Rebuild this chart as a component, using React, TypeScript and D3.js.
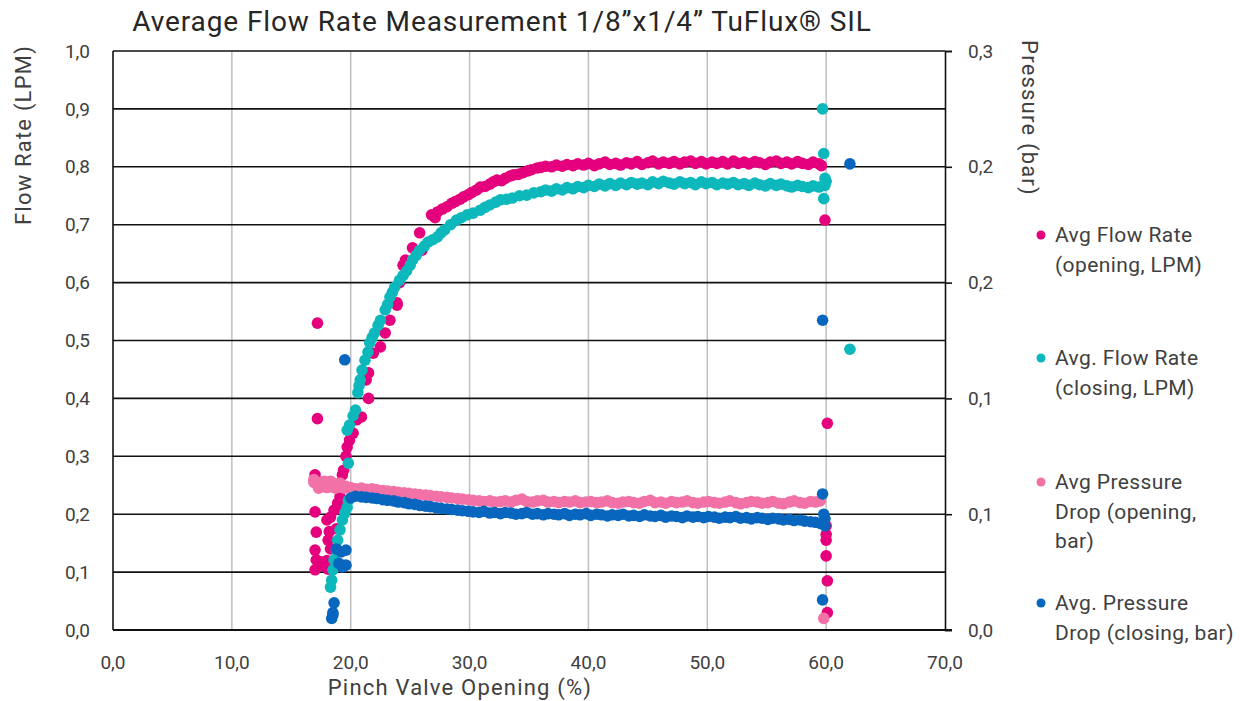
import * as d3 from 'd3';
import { useEffect, useRef } from 'react';

// x = pinch valve opening (%), y = flow rate (LPM)
const flowOpening: [number, number][] = [
    [17.2, 0.53], [17.2, 0.365], [17.0, 0.268], [17.2, 0.255], [17.0, 0.204], [17.1, 0.169], [17.0, 0.138],
    [17.1, 0.121], [17.0, 0.104], [17.5, 0.118], [17.8, 0.11], [18.0, 0.12], [18.1, 0.105], [18.2, 0.17],
    [18.0, 0.19], [18.1, 0.155], [18.3, 0.14], [18.3, 0.195], [18.6, 0.207], [18.8, 0.175], [18.9, 0.219],
    [19.1, 0.23], [19.3, 0.268], [19.4, 0.276], [19.2, 0.21],
    [19.6, 0.30], [19.7, 0.316], [19.9, 0.328], [20.2, 0.34], [20.5, 0.363], [20.9, 0.368], [21.5, 0.40],
    [21.3, 0.432], [21.5, 0.444], [21.9, 0.478], [22.5, 0.489], [22.9, 0.513], [23.3, 0.535], [23.9, 0.561],
    [23.9, 0.565], [24.1, 0.60], [24.4, 0.63], [24.6, 0.639], [25.2, 0.66], [25.8, 0.686], [26.0, 0.656],
    [26.8, 0.717], [27.1, 0.712], [27.3, 0.722], [27.7, 0.727], [28.1, 0.731], [28.5, 0.737], [28.8, 0.74],
    [29.2, 0.744], [29.5, 0.748], [29.9, 0.752], [30.2, 0.756], [30.6, 0.760], [30.9, 0.765], [31.3, 0.766],
    [31.7, 0.77], [32.0, 0.774], [32.3, 0.777], [32.7, 0.776], [33.0, 0.78], [33.4, 0.784], [33.7, 0.786],
    [34.1, 0.787], [34.5, 0.79], [34.9, 0.793], [35.2, 0.795], [35.7, 0.798],
    [36.0, 0.799], [36.4, 0.801], [36.9, 0.800], [37.3, 0.803], [37.8, 0.801], [38.2, 0.804], [38.7, 0.802],
    [39.1, 0.805], [39.6, 0.803], [40.0, 0.806], [40.5, 0.802], [40.9, 0.805], [41.4, 0.808], [41.8, 0.804],
    [42.3, 0.806], [42.7, 0.803], [43.2, 0.807], [43.6, 0.805], [44.1, 0.809], [44.5, 0.804], [45.0, 0.807],
    [45.4, 0.810], [45.9, 0.805], [46.3, 0.808], [46.8, 0.806], [47.2, 0.809], [47.7, 0.805], [48.1, 0.808],
    [48.6, 0.810], [49.0, 0.806], [49.5, 0.809], [49.9, 0.805], [50.4, 0.808], [50.8, 0.806], [51.3, 0.809],
    [51.7, 0.805], [52.2, 0.810], [52.6, 0.806], [53.1, 0.808], [53.5, 0.805], [54.0, 0.809], [54.4, 0.807],
    [54.9, 0.804], [55.3, 0.808], [55.8, 0.810], [56.2, 0.806], [56.7, 0.808], [57.1, 0.805], [57.6, 0.809],
    [58.0, 0.806], [58.5, 0.804], [58.9, 0.808], [59.4, 0.805], [59.6, 0.802],
    [59.9, 0.708], [60.1, 0.357], [60.0, 0.18], [60.0, 0.165], [60.0, 0.155], [60.0, 0.128], [60.1, 0.085], [60.1, 0.03]
];

const flowClosing: [number, number][] = [
    [18.3, 0.074], [18.4, 0.086], [18.5, 0.104], [18.6, 0.121], [18.8, 0.138], [18.9, 0.155], [19.1, 0.173],
    [19.3, 0.19], [19.5, 0.202], [19.7, 0.212], [19.8, 0.224], [19.8, 0.288], [19.7, 0.345], [19.9, 0.354],
    [20.2, 0.37], [20.4, 0.38], [20.6, 0.41], [20.7, 0.422], [20.8, 0.432], [20.95, 0.449], [21.2, 0.466],
    [21.45, 0.48], [21.6, 0.496], [21.8, 0.505], [22.0, 0.513], [22.3, 0.526], [22.5, 0.535], [22.9, 0.553],
    [23.1, 0.562], [23.3, 0.575], [23.5, 0.583], [23.7, 0.592], [24.1, 0.604], [24.4, 0.612], [24.7, 0.62],
    [25.0, 0.630], [25.2, 0.639], [25.5, 0.647], [25.8, 0.656], [26.2, 0.663], [26.5, 0.67], [26.9, 0.674],
    [27.3, 0.679], [27.6, 0.686], [27.9, 0.691], [28.4, 0.70], [28.9, 0.708], [29.3, 0.712], [29.8, 0.717],
    [30.3, 0.72], [30.9, 0.725], [31.3, 0.730], [31.7, 0.734], [32.2, 0.739], [32.6, 0.743], [33.1, 0.744],
    [33.6, 0.746], [34.2, 0.75], [34.8, 0.751], [35.4, 0.755],
    [36.0, 0.757], [36.4, 0.760], [36.9, 0.758], [37.3, 0.762], [37.8, 0.760], [38.2, 0.764], [38.7, 0.762],
    [39.1, 0.766], [39.6, 0.764], [40.0, 0.768], [40.5, 0.766], [40.9, 0.770], [41.4, 0.767], [41.8, 0.771],
    [42.3, 0.768], [42.7, 0.772], [43.2, 0.769], [43.6, 0.773], [44.1, 0.770], [44.5, 0.772], [45.0, 0.769],
    [45.4, 0.774], [45.9, 0.771], [46.3, 0.775], [46.8, 0.772], [47.2, 0.770], [47.7, 0.774], [48.1, 0.771],
    [48.6, 0.773], [49.0, 0.769], [49.5, 0.774], [49.9, 0.771], [50.4, 0.773], [50.8, 0.769], [51.3, 0.772],
    [51.7, 0.770], [52.2, 0.773], [52.6, 0.769], [53.1, 0.771], [53.5, 0.768], [54.0, 0.772], [54.4, 0.769],
    [54.9, 0.767], [55.3, 0.771], [55.8, 0.768], [56.2, 0.770], [56.7, 0.767], [57.1, 0.765], [57.6, 0.768],
    [58.0, 0.766], [58.5, 0.764], [58.9, 0.767], [59.4, 0.765],
    [59.7, 0.9], [59.8, 0.823], [59.9, 0.78], [60.0, 0.775], [59.9, 0.768], [59.8, 0.745], [62.0, 0.485]
];

// y = pressure drop (bar), right axis
const pressureOpening: [number, number][] = [
    [16.9, 0.0765], [16.9, 0.0780], [17.2, 0.0756], [17.3, 0.0735], [17.5, 0.0744], [17.6, 0.0768],
    [17.8, 0.0771], [18.0, 0.0738], [18.1, 0.0753], [18.3, 0.0771], [18.4, 0.0741], [18.7, 0.0759],
    [18.7, 0.0735], [19.0, 0.0747], [19.1, 0.0762], [19.3, 0.0738], [19.5, 0.0735], [19.6, 0.0744],
    [20.0, 0.0738], [20.4, 0.0732], [20.9, 0.0735], [21.3, 0.0729], [21.8, 0.0732], [22.2, 0.0726],
    [22.7, 0.0723], [23.1, 0.0720], [23.6, 0.0717], [24.0, 0.0714], [24.5, 0.0711], [24.9, 0.0708],
    [25.4, 0.0705], [25.8, 0.0702], [26.3, 0.0699], [26.7, 0.0696], [27.2, 0.0693], [27.6, 0.0690],
    [28.1, 0.0687], [28.5, 0.0684], [29.0, 0.0681], [29.4, 0.0678], [29.9, 0.0675], [30.3, 0.0672],
    [30.8, 0.0669], [31.2, 0.0666], [31.7, 0.0669], [32.1, 0.0663], [32.6, 0.0666], [33.0, 0.0669],
    [33.5, 0.0663], [33.9, 0.0672], [34.4, 0.0678], [34.8, 0.0666], [35.3, 0.0663], [35.7, 0.0669],
    [36.2, 0.0672], [36.6, 0.0663], [37.1, 0.0666], [37.5, 0.0660], [38.0, 0.0666], [38.4, 0.0663],
    [38.9, 0.0669], [39.3, 0.0660], [39.8, 0.0663], [40.2, 0.0666], [40.7, 0.0660], [41.1, 0.0663],
    [41.6, 0.0669], [42.0, 0.0660], [42.5, 0.0657], [42.9, 0.0663], [43.4, 0.0666], [43.8, 0.0660],
    [44.3, 0.0657], [44.7, 0.0666], [45.2, 0.0672], [45.6, 0.0660], [46.1, 0.0663], [46.5, 0.0657],
    [47.0, 0.0666], [47.4, 0.0660], [47.9, 0.0663], [48.3, 0.0669], [48.8, 0.0660], [49.2, 0.0657],
    [49.7, 0.0663], [50.1, 0.0666], [50.6, 0.0660], [51.0, 0.0657], [51.5, 0.0663], [51.9, 0.0669],
    [52.4, 0.0660], [52.8, 0.0654], [53.3, 0.0660], [53.7, 0.0666], [54.2, 0.0663], [54.6, 0.0657],
    [55.1, 0.0660], [55.5, 0.0666], [56.0, 0.0657], [56.4, 0.0654], [56.9, 0.0663], [57.3, 0.0669],
    [57.8, 0.0660], [58.2, 0.0657], [58.7, 0.0666], [59.1, 0.0663], [59.5, 0.0669], [59.8, 0.0060]
];

const pressureClosing: [number, number][] = [
    [18.4, 0.0060], [18.5, 0.0078], [18.5, 0.0090], [18.6, 0.0141], [18.8, 0.0420], [19.2, 0.0405],
    [19.6, 0.0414], [19.0, 0.0345], [19.3, 0.0327], [19.6, 0.0336], [19.5, 0.1400],
    [20.0, 0.0684], [20.4, 0.0693], [20.9, 0.0690], [21.3, 0.0687], [21.8, 0.0684], [22.2, 0.0681],
    [22.7, 0.0675], [23.1, 0.0672], [23.6, 0.0669], [24.0, 0.0663], [24.5, 0.0660], [24.9, 0.0654],
    [25.4, 0.0651], [25.8, 0.0645], [26.3, 0.0642], [26.7, 0.0639], [27.2, 0.0633], [27.6, 0.0630],
    [28.1, 0.0627], [28.5, 0.0624], [29.0, 0.0621], [29.4, 0.0618], [29.9, 0.0615], [30.3, 0.0612],
    [30.8, 0.0609], [31.2, 0.0615], [31.7, 0.0606], [32.1, 0.0609], [32.6, 0.0603], [33.0, 0.0609],
    [33.5, 0.0606], [33.9, 0.0600], [34.4, 0.0603], [34.8, 0.0609], [35.3, 0.0600], [35.7, 0.0603],
    [36.2, 0.0597], [36.6, 0.0603], [37.1, 0.0600], [37.5, 0.0597], [38.0, 0.0603], [38.4, 0.0594],
    [38.9, 0.0600], [39.3, 0.0597], [39.8, 0.0603], [40.2, 0.0594], [40.7, 0.0600], [41.1, 0.0597],
    [41.6, 0.0591], [42.0, 0.0597], [42.5, 0.0594], [42.9, 0.0600], [43.4, 0.0591], [43.8, 0.0594],
    [44.3, 0.0588], [44.7, 0.0597], [45.2, 0.0591], [45.6, 0.0588], [46.1, 0.0594], [46.5, 0.0585],
    [47.0, 0.0591], [47.4, 0.0588], [47.9, 0.0582], [48.3, 0.0591], [48.8, 0.0585], [49.2, 0.0588],
    [49.7, 0.0582], [50.1, 0.0588], [50.6, 0.0585], [51.0, 0.0579], [51.5, 0.0585], [51.9, 0.0582],
    [52.4, 0.0588], [52.8, 0.0579], [53.3, 0.0582], [53.7, 0.0576], [54.2, 0.0582], [54.6, 0.0579],
    [55.1, 0.0573], [55.5, 0.0579], [56.0, 0.0576], [56.4, 0.0570], [56.9, 0.0573], [57.3, 0.0567],
    [57.8, 0.0570], [58.2, 0.0564], [58.7, 0.0561], [59.1, 0.0558], [59.5, 0.0552],
    [59.7, 0.1605], [59.7, 0.0705], [59.8, 0.0600], [59.9, 0.0576], [59.8, 0.0555], [59.9, 0.0540],
    [59.7, 0.0156], [62.0, 0.2415]
];

const xTicks = [0, 10, 20, 30, 40, 50, 60, 70];
const leftTicks = [0, 0.1, 0.2, 0.3, 0.4, 0.5, 0.6, 0.7, 0.8, 0.9, 1.0];
const rightTicks = [0, 0.06, 0.12, 0.18, 0.24, 0.3];

const series = [
    { data: flowOpening, axis: 'left', color: '#E5007D', label: ['Avg Flow Rate', '(opening, LPM)'] },
    { data: flowClosing, axis: 'left', color: '#0DB8BC', label: ['Avg. Flow Rate', '(closing, LPM)'] },
    { data: pressureOpening, axis: 'right', color: '#F272A7', label: ['Avg Pressure', 'Drop (opening,', 'bar)'] },
    { data: pressureClosing, axis: 'right', color: '#0866BF', label: ['Avg.  Pressure', 'Drop (closing, bar)'] }
];

export default function App() {
    const ref = useRef<HTMLDivElement>(null);

    useEffect(() => {
        const width = 1240;
        const height = 701;
        const margin = { top: 51, right: 295, bottom: 71, left: 113 };
        const font = 'Roboto, "Noto Sans", sans-serif';
        const textColor = '#404040';
        const fmt = (v: number) => d3.format('.1f')(v).replace('.', ',');

        const x = d3.scaleLinear().domain([0, 70]).range([margin.left, width - margin.right]);
        const yL = d3.scaleLinear().domain([0, 1]).range([height - margin.bottom, margin.top]);
        const yR = d3.scaleLinear().domain([0, 0.3]).range([height - margin.bottom, margin.top]);

        const svg = d3.create('svg')
            .attr('width', width)
            .attr('height', height)
            .style('position', 'absolute')
            .style('left', 0)
            .style('top', 0)
            .style('background', '#fff');

        // vertical grid (gray)
        svg.append('g')
            .selectAll('line')
            .data(xTicks.slice(1, -1))
            .join('line')
            .attr('x1', d => x(d)).attr('x2', d => x(d))
            .attr('y1', yL(1)).attr('y2', yL(0))
            .attr('stroke', '#bfbfbf')
            .attr('stroke-width', 1.5);

        // horizontal grid (black)
        svg.append('g')
            .selectAll('line')
            .data(leftTicks.slice(1))
            .join('line')
            .attr('x1', x(0)).attr('x2', x(70))
            .attr('y1', d => yL(d)).attr('y2', d => yL(d))
            .attr('stroke', '#111')
            .attr('stroke-width', 1.6);

        // axis lines
        svg.append('line')
            .attr('x1', x(0)).attr('x2', x(0)).attr('y1', yL(1)).attr('y2', yL(0))
            .attr('stroke', '#111').attr('stroke-width', 1.6);

        const rightAxis = d3.axisRight(yR).tickValues(rightTicks).tickSize(7).tickFormat(() => '');
        svg.append('g')
            .attr('transform', `translate(${x(70)},0)`)
            .call(rightAxis)
            .call(g => g.selectAll('line, path').attr('stroke', '#111').attr('stroke-width', 1.6));

        svg.append('line')
            .attr('x1', x(0)).attr('x2', x(70) + 7).attr('y1', yL(0)).attr('y2', yL(0))
            .attr('stroke', '#111').attr('stroke-width', 2.2);

        // tick labels
        const tickText = (g: any) => g
            .attr('font-family', font)
            .attr('font-size', 19)
            .attr('fill', textColor);

        svg.append('g')
            .call(tickText)
            .selectAll('text')
            .data(leftTicks)
            .join('text')
            .attr('x', x(0) - 23)
            .attr('y', d => yL(d))
            .attr('dy', '0.35em')
            .attr('text-anchor', 'end')
            .text(d => fmt(d));

        svg.append('g')
            .call(tickText)
            .selectAll('text')
            .data(rightTicks)
            .join('text')
            .attr('x', x(70) + 23)
            .attr('y', d => yR(d))
            .attr('dy', '0.35em')
            .attr('text-anchor', 'start')
            .text(d => fmt(d));

        svg.append('g')
            .call(tickText)
            .selectAll('text')
            .data(xTicks)
            .join('text')
            .attr('x', d => x(d))
            .attr('y', yL(0) + 39)
            .attr('text-anchor', 'middle')
            .text(d => fmt(d));

        // titles
        svg.append('text')
            .attr('x', 502).attr('y', 31)
            .attr('text-anchor', 'middle')
            .attr('font-family', font)
            .attr('font-size', 28)
            .attr('letter-spacing', 0.9)
            .attr('fill', '#262626')
            .text('Average Flow Rate Measurement 1/8\u201Dx1/4\u201D TuFlux\u00AE SIL');

        svg.append('text')
            .attr('x', 460).attr('y', 695)
            .attr('text-anchor', 'middle')
            .attr('font-family', font)
            .attr('font-size', 22)
            .attr('letter-spacing', 1.2)
            .attr('fill', textColor)
            .text('Pinch Valve Opening (%)');

        svg.append('text')
            .attr('transform', 'translate(31,135) rotate(-90)')
            .attr('text-anchor', 'middle')
            .attr('font-family', font)
            .attr('font-size', 22)
            .attr('letter-spacing', 1.2)
            .attr('fill', textColor)
            .text('Flow Rate (LPM)');

        svg.append('text')
            .attr('transform', 'translate(1022,118) rotate(90)')
            .attr('text-anchor', 'middle')
            .attr('font-family', font)
            .attr('font-size', 22)
            .attr('letter-spacing', 1.2)
            .attr('fill', textColor)
            .text('Pressure (bar)');

        // points
        series.forEach(s => {
            const y = s.axis === 'left' ? yL : yR;
            svg.append('g')
                .selectAll('circle')
                .data(s.data)
                .join('circle')
                .attr('cx', d => x(d[0]))
                .attr('cy', d => y(d[1]))
                .attr('r', 5.8)
                .attr('fill', s.color);
        });

        // legend
        const legendTop = [235, 358, 482, 603];
        const legend = svg.append('g');
        series.forEach((s, i) => {
            legend.append('circle')
                .attr('cx', 1041).attr('cy', legendTop[i])
                .attr('r', 4.5)
                .attr('fill', s.color);
            legend.append('text')
                .attr('font-family', font)
                .attr('font-size', 21)
                .attr('letter-spacing', 0.4)
                .attr('fill', textColor)
                .selectAll('tspan')
                .data(s.label)
                .join('tspan')
                .attr('x', 1055)
                .attr('y', (d, j) => legendTop[i] + j * 29.5)
                .attr('dy', '0.35em')
                .text(d => d);
        });

        ref.current!.innerHTML = '';
        ref.current!.append(svg.node()!);
    }, []);

    return <div ref={ref}></div>;
}
